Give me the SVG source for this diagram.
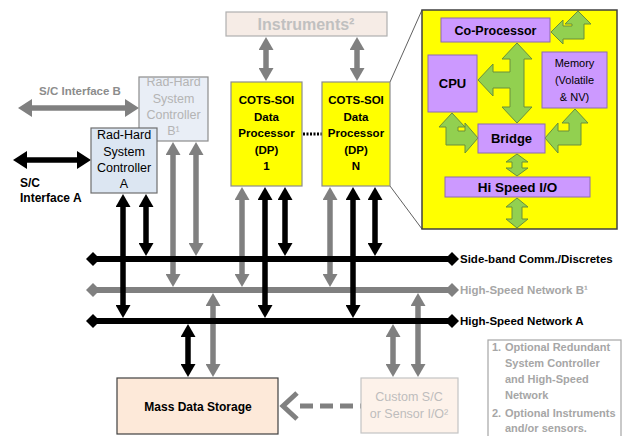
<svg xmlns="http://www.w3.org/2000/svg" width="624" height="436" viewBox="0 0 624 436">
<defs>
<style>
text{font-family:"Liberation Sans",Arial,sans-serif;text-anchor:middle}
.b{font-weight:bold}
.blk{stroke:#000;stroke-width:5.5;fill:none}
.gry{stroke:#808080;stroke-width:5.5;fill:none}
.pur{fill:#cc99ff;stroke:#8c6bb0;stroke-width:1}
.grn{fill:#92d050;stroke:#6a8f3a;stroke-width:1}
.dp{fill:#ffff00;stroke:#8c8c8c;stroke-width:1.2}
</style>
<marker id="hb" markerUnits="userSpaceOnUse" markerWidth="15" markerHeight="15" viewBox="0 0 15 15" refX="2" refY="7.5" orient="auto-start-reverse"><path d="M0,0 L13,7.5 L0,15 Z" fill="#000"/></marker>
<marker id="hg" markerUnits="userSpaceOnUse" markerWidth="15" markerHeight="15" viewBox="0 0 15 15" refX="2" refY="7.5" orient="auto-start-reverse"><path d="M0,0 L13,7.5 L0,15 Z" fill="#808080"/></marker>
<marker id="Hb" markerUnits="userSpaceOnUse" markerWidth="16" markerHeight="18" viewBox="0 0 16 18" refX="2" refY="9" orient="auto-start-reverse"><path d="M0,0 L14,9 L0,18 Z" fill="#000"/></marker>
<marker id="Hg" markerUnits="userSpaceOnUse" markerWidth="16" markerHeight="18" viewBox="0 0 16 18" refX="2" refY="9" orient="auto-start-reverse"><path d="M0,0 L14,9 L0,18 Z" fill="#808080"/></marker>
</defs>
<rect width="624" height="436" fill="#fff"/>

<!-- callout lines -->
<g id="callout" stroke="#606060" stroke-width="1" fill="none">
<line x1="390" y1="82" x2="422" y2="10"/>
<line x1="390" y1="186" x2="422" y2="229"/>
</g>

<g id="connectors">
<g id="gray-verticals">
<line class="gry" x1="173" y1="153" x2="173" y2="276" marker-start="url(#hg)" marker-end="url(#hg)"/>
<line class="gry" x1="196" y1="153" x2="196" y2="245" marker-start="url(#hg)" marker-end="url(#hg)"/>
<line class="gry" x1="213" y1="304" x2="213" y2="366" marker-start="url(#hg)" marker-end="url(#hg)"/>
<line class="gry" x1="242" y1="198" x2="242" y2="276" marker-start="url(#hg)" marker-end="url(#hg)"/>
<line class="gry" x1="330" y1="198" x2="330" y2="276" marker-start="url(#hg)" marker-end="url(#hg)"/>
<line class="gry" x1="393" y1="335" x2="393" y2="366" marker-start="url(#hg)" marker-end="url(#hg)"/>
<line class="gry" x1="418" y1="304" x2="418" y2="366" marker-start="url(#hg)" marker-end="url(#hg)"/>
<line class="gry" x1="266" y1="48" x2="266" y2="70" marker-start="url(#hg)" marker-end="url(#hg)"/>
<line class="gry" x1="357" y1="48" x2="357" y2="70" marker-start="url(#hg)" marker-end="url(#hg)"/>
<line class="gry" x1="30" y1="108" x2="127" y2="108" stroke-width="6" marker-start="url(#Hg)" marker-end="url(#Hg)"/>
</g>
<g id="bus-b">
<line x1="93" y1="290" x2="452" y2="290" stroke="#808080" stroke-width="6"/>
<polygon points="86,290 93,283 100,290 93,297" fill="#808080"/>
<polygon points="445,290 452,283 459,290 452,297" fill="#808080"/>
</g>
<g id="bus-side">
<line x1="93" y1="259" x2="452" y2="259" stroke="#000" stroke-width="6"/>
<polygon points="86,259 93,252 100,259 93,266" fill="#000"/>
<polygon points="445,259 452,252 459,259 452,266" fill="#000"/>
</g>
<g id="bus-a">
<line x1="93" y1="321" x2="452" y2="321" stroke="#000" stroke-width="6"/>
<polygon points="86,321 93,314 100,321 93,328" fill="#000"/>
<polygon points="445,321 452,314 459,321 452,328" fill="#000"/>
</g>
<g id="black-verticals">
<line class="blk" x1="123" y1="205" x2="123" y2="307" marker-start="url(#hb)" marker-end="url(#hb)"/>
<line class="blk" x1="146" y1="205" x2="146" y2="245" marker-start="url(#hb)" marker-end="url(#hb)"/>
<line class="blk" x1="188" y1="335" x2="188" y2="366" marker-start="url(#hb)" marker-end="url(#hb)"/>
<line class="blk" x1="265" y1="198" x2="265" y2="307" marker-start="url(#hb)" marker-end="url(#hb)"/>
<line class="blk" x1="285" y1="198" x2="285" y2="245" marker-start="url(#hb)" marker-end="url(#hb)"/>
<line class="blk" x1="353" y1="198" x2="353" y2="307" marker-start="url(#hb)" marker-end="url(#hb)"/>
<line class="blk" x1="375" y1="198" x2="375" y2="245" marker-start="url(#hb)" marker-end="url(#hb)"/>
<line class="blk" x1="25" y1="160" x2="79" y2="160" stroke-width="6" marker-start="url(#Hb)" marker-end="url(#Hb)"/>
</g>
<g id="dashed-link">
<line x1="300" y1="406" x2="361" y2="406" stroke="#808080" stroke-width="5" stroke-dasharray="13,7"/>
<polyline points="297,393 283,406 297,419" fill="none" stroke="#808080" stroke-width="5"/>
</g>
<line id="dp-dots" x1="303" y1="134" x2="322" y2="134" stroke="#000" stroke-width="3" stroke-dasharray="2,1.5"/>
</g>

<g id="bus-labels" class="b" font-size="11.5">
<text x="460" y="263" style="text-anchor:start" fill="#000">Side-band  Comm./Discretes</text>
<text x="460" y="294" style="text-anchor:start" fill="#a6a6a6">High-Speed Network B¹</text>
<text x="460" y="325" style="text-anchor:start" fill="#000">High-Speed Network A</text>
</g>

<g id="sc-interface-b">
<text x="80" y="95" class="b" font-size="11.5" fill="#8c8c8c">S/C Interface B</text>
</g>
<g id="sc-interface-a">
<text x="20" y="187" class="b" font-size="12" fill="#000" style="text-anchor:start">S/C</text>
<text x="20" y="202" class="b" font-size="12" fill="#000" style="text-anchor:start">Interface A</text>
</g>

<g id="controller-b">
<rect x="139" y="77" width="69" height="64" fill="#e9eef6" stroke="#8c8c8c" stroke-width="1.2"/>
<g font-size="12.5" fill="#b4b4b4">
<text x="173.5" y="86">Rad-Hard</text>
<text x="173.5" y="103">System</text>
<text x="173.5" y="119">Controller</text>
<text x="173.5" y="135">B¹</text>
</g>
</g>
<g id="controller-a">
<rect x="91" y="128" width="66" height="65" fill="#dce6f2" stroke="#6e6e6e" stroke-width="1.2"/>
<g font-size="12.5" fill="#000">
<text x="124" y="139">Rad-Hard</text>
<text x="124" y="156">System</text>
<text x="124" y="172">Controller</text>
<text x="124" y="188">A</text>
</g>
</g>

<g id="instruments">
<rect x="226" y="12" width="161" height="24" fill="#f6ece6" stroke="#b0b0b0" stroke-width="1.2"/>
<text x="306" y="30" class="b" font-size="16" fill="#c0c0c0">Instruments²</text>
</g>

<g id="dp-1">
<rect class="dp" x="231" y="82" width="71" height="104"/>
<g class="b" font-size="11.5" fill="#000">
<text x="266.5" y="104">COTS-SOI</text>
<text x="266.5" y="121">Data</text>
<text x="266.5" y="137">Processor</text>
<text x="266.5" y="154">(DP)</text>
<text x="266.5" y="170">1</text>
</g>
</g>
<g id="dp-n">
<rect class="dp" x="322" y="82" width="68" height="104"/>
<g class="b" font-size="11.5" fill="#000">
<text x="356" y="104">COTS-SOI</text>
<text x="356" y="121">Data</text>
<text x="356" y="137">Processor</text>
<text x="356" y="154">(DP)</text>
<text x="356" y="170">N</text>
</g>
</g>

<g id="dp-detail">
<rect x="422" y="10" width="195" height="219" fill="#ffff00" stroke="#404040" stroke-width="1.5"/>
<g id="green-arrows">
<polygon class="grn" points="517,43 532,59 524,59 524,107 532,107 517,123 502,107 510,107 510,88 493,88 493,96 478,80 493,64 493,72 510,72 510,59 502,59"/>
<polygon class="grn" points="452,113 465,127 458,127 458,131 465,131 465,123 478,138 465,153 465,145 446,145 446,127 439,127"/>
<polygon class="grn" points="575,109 588,123 581,123 581,145 558,145 558,153 545,138 558,123 558,131 569,131 569,123 562,123"/>
<polygon class="grn" points="551,32 563,20 563,26 572,26 572,24 565,24 578,11 591,24 584,24 584,39 563,39 563,44"/>
<polygon class="grn" points="517,154 528,162 522,162 522,168 528,168 517,176 506,168 512,168 512,162 506,162"/>
<polygon class="grn" points="517,198 528,207 522,207 522,219 528,219 517,228 506,219 512,219 512,207 506,207"/>
</g>
<g id="co-processor">
<rect class="pur" x="441" y="18" width="109" height="24"/>
<text x="495.5" y="35" class="b" font-size="12.5">Co-Processor</text>
</g>
<g id="cpu">
<rect class="pur" x="428" y="55" width="49" height="57"/>
<text x="452.5" y="88" class="b" font-size="13">CPU</text>
</g>
<g id="memory">
<rect class="pur" x="542" y="52" width="65" height="56"/>
<g font-size="11" fill="#000">
<text x="574.5" y="67">Memory</text>
<text x="574.5" y="84">(Volatile</text>
<text x="574.5" y="101">&amp; NV)</text>
</g>
</g>
<g id="bridge">
<rect class="pur" x="478" y="124" width="67" height="29"/>
<text x="511.5" y="143" class="b" font-size="13">Bridge</text>
</g>
<g id="hi-speed-io">
<rect class="pur" x="445" y="177" width="145" height="20"/>
<text x="517.5" y="192" class="b" font-size="13.5">Hi Speed I/O</text>
</g>
</g>

<g id="mass-data-storage">
<rect x="117" y="378" width="161" height="56" fill="#fde9d9" stroke="#404040" stroke-width="1.2"/>
<text x="198" y="411" class="b" font-size="12" fill="#000">Mass Data Storage</text>
</g>
<g id="custom-io">
<rect x="361" y="378" width="97" height="55" fill="#fdf2ea" stroke="#c4c4c4" stroke-width="1.2"/>
<g font-size="12.5" fill="#bdbdbd">
<text x="409" y="401">Custom S/C</text>
<text x="409" y="418">or Sensor I/O²</text>
</g>
</g>

<g id="notes">
<rect x="488" y="340" width="133" height="100" fill="#fff" stroke="#a6a6a6" stroke-width="1.2"/>
<g class="b" font-size="11" fill="#a6a6a6">
<text x="492" y="351" style="text-anchor:start">1.</text>
<text x="505" y="351" style="text-anchor:start">Optional Redundant</text>
<text x="505" y="367" style="text-anchor:start">System Controller</text>
<text x="505" y="383" style="text-anchor:start">and High-Speed</text>
<text x="505" y="399" style="text-anchor:start">Network</text>
<text x="492" y="417" style="text-anchor:start">2.</text>
<text x="505" y="417" style="text-anchor:start">Optional Instruments</text>
<text x="505" y="432" style="text-anchor:start">and/or sensors.</text>
</g>
</g>
</svg>
